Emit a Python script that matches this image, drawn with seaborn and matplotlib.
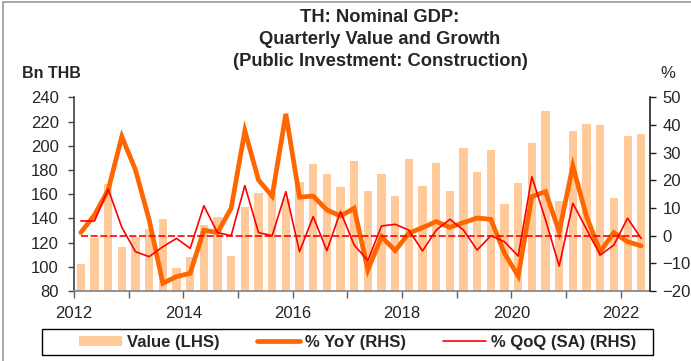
import matplotlib
matplotlib.use("Agg")
import matplotlib.pyplot as plt
import numpy as np
import pandas as pd
import seaborn as sns
from matplotlib.lines import Line2D
from matplotlib.patches import Patch, Rectangle
from matplotlib.ticker import FixedLocator

# Quarterly public construction investment, 2012Q1 - 2022Q2
quarters = pd.period_range("2012Q1", "2022Q2", freq="Q")

value_bn_thb = [
    102.3, 124.0, 168.4, 116.1,   # 2012
    124.9, 131.5, 139.5, 98.7,    # 2013
    108.3, 134.3, 141.1, 108.6,   # 2014
    149.7, 161.2, 161.5, 156.4,   # 2015
    170.0, 184.9, 176.6, 166.2,   # 2016
    187.4, 162.6, 176.6, 158.2,   # 2017
    189.3, 167.0, 186.0, 162.9,   # 2018
    198.1, 178.3, 196.7, 151.9,   # 2019
    169.2, 202.5, 228.7, 154.6,   # 2020
    212.4, 217.9, 216.8, 156.8,   # 2021
    208.0, 209.7,                 # 2022
]

yoy_pct = [
    1.1, 7.5, 16.5, 35.8,
    23.7, 5.7, -17.2, -14.8,
    -13.6, 2.0, 1.1, 9.9,
    37.9, 20.1, 14.3, 44.0,
    13.9, 14.3, 9.3, 7.1,
    9.9, -12.4, -0.4, -5.4,
    0.9, 2.9, 5.1, 3.0,
    4.7, 6.4, 5.9, -6.4,
    -14.6, 14.1, 15.9, 1.4,
    25.2, 6.9, -5.8, 1.1,
    -2.2, -3.7,
]

qoq_sa_pct = [
    5.3, 5.3, 16.8, 3.0,
    -5.8, -7.6, -4.0, -1.0,
    -4.6, 10.8, 1.1, 0.0,
    18.1, 1.1, 0.0, 15.9,
    -5.8, 6.9, -5.4, 8.7,
    -3.4, -9.0, 3.5, 4.1,
    2.0, -5.5, 2.0, 5.9,
    2.0, -5.2, 0.0, -2.2,
    -7.4, 21.3, 5.7, -11.0,
    11.7, 2.3, -7.0, -3.4,
    6.3, -1.0,
]

BAR_COLOR = "#FFC999"
YOY_COLOR = "#FF6600"
QOQ_COLOR = "#FF0000"

df = pd.DataFrame({
    "t": quarters.year + (quarters.quarter - 0.5) / 4.0,
    "value": value_bn_thb,
    "yoy": yoy_pct,
    "qoq": qoq_sa_pct,
})
df["zero"] = 0.0

sns.set_style("white")
plt.rcParams["font.family"] = ["Liberation Sans", "DejaVu Sans"]

W, H = 691, 361
fig = plt.figure(figsize=(W / 100, H / 100), dpi=100)

ax_left, ax_right, ax_top, ax_bottom = 74, 650, 97.3, 291
ax = fig.add_axes([ax_left / W, 1 - ax_bottom / H,
                   (ax_right - ax_left) / W, (ax_bottom - ax_top) / H])

sns.barplot(data=df, x="t", y="value", native_scale=True, width=0.59,
            color=BAR_COLOR, saturation=1, errorbar=None, linewidth=0, ax=ax)

ax2 = ax.twinx()
sns.lineplot(data=df, x="t", y="yoy", color=YOY_COLOR, lw=3.4,
             solid_joinstyle="miter", ax=ax2)
sns.lineplot(data=df, x="t", y="zero", color=QOQ_COLOR, lw=1.2,
             dashes=False, ax=ax2).lines[-1].set_dashes((4.2, 1.6))
sns.lineplot(data=df, x="t", y="qoq", color=QOQ_COLOR, lw=1.2, ax=ax2)

# axes limits and ticks
ax.set_xlim(2012.0, 2012.0 + (ax_right - ax_left) / 54.67)
ax.set_ylim(80, 240)
ax.set_yticks(np.arange(80, 241, 20))
ax2.set_ylim(-20, 50)
ax2.set_yticks(np.arange(-20, 51, 10))

years = np.arange(2012, 2023)
ax.xaxis.set_major_locator(FixedLocator(years[::2]))
ax.xaxis.set_minor_locator(FixedLocator(years[1::2]))
ax.set_xticklabels([str(y) for y in years[::2]])

for a in (ax, ax2):
    a.set_xlabel("")
    a.set_ylabel("")
    a.grid(False)
    a.spines["top"].set_visible(False)

ax.spines["left"].set_color("#404040")
ax.spines["bottom"].set_color("#808080")
ax.spines["right"].set_visible(False)
ax2.spines["left"].set_visible(False)
ax2.spines["bottom"].set_visible(False)
ax2.spines["right"].set_color("#202020")
for s in ("left", "bottom"):
    ax.spines[s].set_linewidth(1.2)
ax2.spines["right"].set_linewidth(1.2)

ax.tick_params(axis="y", which="both", left=True, direction="out", length=4,
               width=1, color="#404040", labelsize=12, pad=7)
ax.tick_params(axis="x", which="both", bottom=True, direction="out", length=5,
               width=1, color="#606060", labelsize=12, pad=6)
ax2.tick_params(axis="y", right=True, direction="out", length=4, width=1,
                color="#202020", labelsize=12, pad=5)

# titles and axis captions
title_lines = ["TH: Nominal GDP:", "Quarterly Value and Growth",
               "(Public Investment: Construction)"]
for line, ypix in zip(title_lines, (18, 40, 61)):
    fig.text(380 / W, 1 - ypix / H, line, ha="center", va="center",
             fontsize=13.2, fontweight="bold")
fig.text(22 / W, 1 - 73 / H, "Bn THB", ha="left", va="center",
         fontsize=11.5, fontweight="bold")
fig.text(660 / W, 1 - 74 / H, "%", ha="left", va="center", fontsize=12)

# legend: items inside a plain rectangular box
handles = [
    Patch(facecolor=BAR_COLOR, edgecolor="none"),
    Line2D([], [], color=YOY_COLOR, lw=3.4),
    Line2D([], [], color=QOQ_COLOR, lw=1.2),
]
labels = ["Value (LHS)", "% YoY (RHS)", "% QoQ (SA) (RHS)"]
leg = fig.legend(handles, labels, loc="center left",
                 bbox_to_anchor=(79 / W, 1 - 342 / H),
                 ncol=3, frameon=False, borderaxespad=0, borderpad=0,
                 handlelength=2.6, handleheight=0.55, handletextpad=0.3,
                 columnspacing=2.2,
                 prop={"weight": "bold", "size": 12})
fig.patches.append(Rectangle((42 / W, 1 - 355 / H), (653 - 42) / W, 26 / H,
                             transform=fig.transFigure, fill=False,
                             edgecolor="black", lw=1.0))

# outer frame of the chart
fig.patches.append(Rectangle((3 / W, -0.2), 1.2, 1.2 - 2 / H,
                             transform=fig.transFigure, fill=False,
                             edgecolor="#9a9a9a", lw=1.2))

fig.savefig("out.png", dpi=100)
